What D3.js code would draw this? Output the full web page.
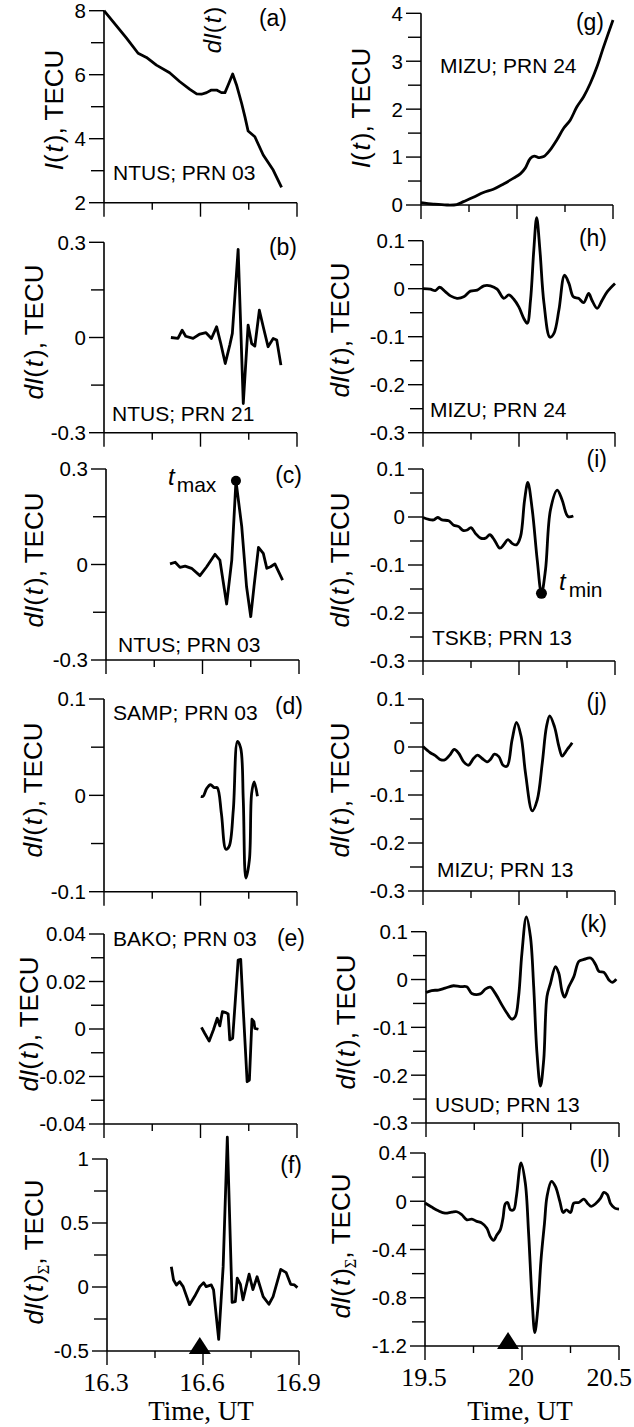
<!DOCTYPE html>
<html>
<head>
<meta charset="utf-8">
<script src="https://cdn.jsdelivr.net/npm/d3@7/dist/d3.min.js"></script>
<style>
  body { margin: 0; background: #fff; }
  svg { display: block; }
</style>
</head>
<body>
<svg id="chart" width="634" height="1427"></svg>
<script>
// ---------- data ----------
// x ticks
const leftTimeTicks = [16.3, 16.45, 16.6, 16.75, 16.9];
const leftTimeLabels = ["16.3", "", "16.6", "", "16.9"];
const rightTimeTicks = [19.5, 19.75, 20, 20.25, 20.5];
const rightTimeLabels = ["19.5", "", "20", "", "20.5"];

// y ticks
const yMajorA = [2, 4, 6, 8], yMinorA = [3, 5, 7];
const yMajorBC = [-0.3, 0, 0.3], yMinorBC = [-0.15, 0.15];
const yMajorD = [-0.1, 0, 0.1], yMinorD = [-0.05, 0.05];
const yMajorE = [-0.04, -0.02, 0, 0.02, 0.04], yMinorE = [-0.03, -0.01, 0.01, 0.03];
const yMajorF = [-0.5, 0, 0.5, 1], yMinorF = [-0.25, 0.25, 0.75];
const yMajorG = [0, 1, 2, 3, 4], yMinorG = [0.5, 1.5, 2.5, 3.5];
const yMajorHK = [-0.3, -0.2, -0.1, 0, 0.1], yMinorHK = [-0.25, -0.15, -0.05, 0.05];
const yMajorL = [-1.2, -0.8, -0.4, 0, 0.4], yMinorL = [-1.0, -0.6, -0.2, 0.2];

// (a) NTUS PRN 03, I(t)
const timeA = [16.300, 16.328, 16.370, 16.406, 16.432, 16.463, 16.504, 16.536, 16.567, 16.588, 16.603, 16.619, 16.634, 16.650, 16.665, 16.676, 16.686, 16.700, 16.712, 16.728, 16.738, 16.748, 16.769, 16.795, 16.826, 16.852];
const tecA = [8.00, 7.66, 7.14, 6.67, 6.54, 6.30, 6.06, 5.78, 5.54, 5.40, 5.39, 5.44, 5.52, 5.52, 5.44, 5.44, 5.68, 6.02, 5.68, 5.10, 4.69, 4.24, 4.06, 3.49, 3.02, 2.48];
// (b) NTUS PRN 21
const timeB = [16.508, 16.530, 16.543, 16.554, 16.577, 16.598, 16.617, 16.634, 16.650, 16.663, 16.677, 16.691, 16.699, 16.717, 16.733, 16.748, 16.759, 16.769, 16.783, 16.795, 16.810, 16.826, 16.837, 16.850];
const dB = [0.000, -0.003, 0.023, 0.004, -0.003, 0.011, 0.015, -0.003, 0.034, -0.019, -0.082, -0.024, 0.013, 0.278, -0.208, 0.039, -0.019, -0.027, 0.086, 0.034, -0.029, -0.003, -0.008, -0.087];
// (c) NTUS PRN 03
const timeC = [16.499, 16.515, 16.530, 16.546, 16.566, 16.592, 16.613, 16.639, 16.654, 16.675, 16.691, 16.704, 16.722, 16.737, 16.750, 16.760, 16.774, 16.789, 16.800, 16.812, 16.825, 16.849];
const dC = [0.002, 0.007, -0.009, -0.005, -0.012, -0.035, -0.007, 0.032, 0.014, -0.124, 0.014, 0.263, 0.119, -0.070, -0.164, -0.070, 0.054, 0.035, -0.012, -0.007, 0.002, -0.049];
// (d) SAMP PRN 03
const timeD = [16.601, 16.608, 16.619, 16.631, 16.643, 16.652, 16.665, 16.679, 16.689, 16.702, 16.715, 16.725, 16.733, 16.741, 16.752, 16.759, 16.767, 16.777];
const dD = [-0.001, -0.001, 0.007, 0.011, 0.008, 0.008, -0.019, -0.056, -0.053, -0.015, 0.056, 0.049, -0.005, -0.086, -0.067, 0.002, 0.014, -0.001];
// (e) BAKO PRN 03
const timeE = [16.603, 16.613, 16.627, 16.640, 16.652, 16.660, 16.668, 16.679, 16.686, 16.691, 16.700, 16.717, 16.725, 16.733, 16.745, 16.752, 16.760, 16.766, 16.769, 16.780];
const dE = [0.0007, -0.0018, -0.0051, -0.0004, 0.0045, 0.0013, 0.0073, 0.0069, 0.0063, -0.0046, -0.0039, 0.0290, 0.0293, 0.0080, -0.0222, -0.0215, 0.0041, 0.0031, 0.0003, -0.0001];
// (f) sum
const timeF = [16.501, 16.508, 16.517, 16.527, 16.538, 16.558, 16.574, 16.590, 16.602, 16.610, 16.626, 16.633, 16.649, 16.663, 16.676, 16.691, 16.701, 16.707, 16.717, 16.725, 16.744, 16.756, 16.769, 16.788, 16.806, 16.819, 16.843, 16.860, 16.874, 16.886, 16.895];
const dF = [0.159, 0.055, 0.016, 0.042, 0.003, -0.138, -0.073, 0.003, 0.034, 0.003, 0.016, -0.023, -0.409, 0.159, 1.17, -0.120, -0.115, 0.070, 0.020, -0.100, 0.100, -0.020, 0.080, -0.075, -0.135, -0.075, 0.138, 0.112, 0.021, 0.016, -0.005];

// (g) MIZU PRN 24, I(t)
const timeG = [19.500, 19.564, 19.634, 19.686, 19.721, 19.773, 19.825, 19.877, 19.930, 19.982, 20.017, 20.043, 20.069, 20.090, 20.113, 20.139, 20.173, 20.208, 20.243, 20.277, 20.312, 20.347, 20.382, 20.417, 20.451, 20.500];
const tecG = [0.05, 0.02, 0.00, 0.01, 0.07, 0.16, 0.26, 0.33, 0.44, 0.56, 0.65, 0.77, 0.97, 1.02, 0.99, 1.01, 1.15, 1.36, 1.60, 1.77, 2.05, 2.26, 2.54, 2.89, 3.30, 3.86];
// (h) MIZU PRN 24
const timeH = [19.500, 19.538, 19.564, 19.587, 19.616, 19.643, 19.677, 19.712, 19.747, 19.782, 19.817, 19.851, 19.886, 19.921, 19.947, 19.973, 19.999, 20.025, 20.043, 20.060, 20.077, 20.092, 20.109, 20.130, 20.161, 20.182, 20.208, 20.237, 20.260, 20.283, 20.310, 20.337, 20.363, 20.380, 20.407, 20.433, 20.460, 20.500];
const dH = [0.000, -0.001, -0.004, 0.003, -0.006, -0.015, -0.020, -0.017, -0.005, -0.003, 0.006, 0.006, -0.001, -0.020, -0.013, -0.022, -0.038, -0.062, -0.072, -0.024, 0.080, 0.148, 0.080, -0.030, -0.101, -0.093, -0.044, 0.028, 0.011, -0.017, -0.020, -0.029, -0.010, -0.024, -0.041, -0.024, -0.006, 0.011];
// (i) TSKB PRN 13
const timeI = [19.500, 19.530, 19.556, 19.576, 19.599, 19.634, 19.660, 19.686, 19.708, 19.730, 19.750, 19.773, 19.800, 19.826, 19.848, 19.872, 19.900, 19.920, 19.942, 19.964, 19.987, 20.008, 20.029, 20.046, 20.069, 20.095, 20.117, 20.138, 20.164, 20.199, 20.225, 20.255, 20.283];
const dI = [-0.001, -0.005, -0.006, -0.001, -0.006, -0.008, -0.017, -0.020, -0.028, -0.027, -0.022, -0.034, -0.044, -0.044, -0.037, -0.048, -0.065, -0.058, -0.047, -0.055, -0.058, -0.041, 0.035, 0.072, 0.015, -0.090, -0.159, -0.110, 0.015, 0.056, 0.035, 0.001, 0.002];
// (j) MIZU PRN 13
const timeJ = [19.500, 19.538, 19.564, 19.594, 19.617, 19.639, 19.663, 19.686, 19.712, 19.737, 19.763, 19.784, 19.808, 19.834, 19.851, 19.872, 19.895, 19.917, 19.938, 19.964, 19.987, 20.011, 20.034, 20.069, 20.095, 20.121, 20.143, 20.160, 20.185, 20.208, 20.225, 20.243, 20.255, 20.265, 20.277];
const dJ = [0.001, -0.012, -0.018, -0.027, -0.026, -0.017, -0.005, -0.013, -0.031, -0.038, -0.024, -0.017, -0.024, -0.031, -0.026, -0.015, -0.020, -0.038, -0.040, 0.015, 0.051, 0.022, -0.055, -0.133, -0.110, -0.034, 0.042, 0.065, 0.042, 0.001, -0.019, -0.010, -0.003, 0.002, 0.009];
// (k) USUD PRN 13
const timeK = [19.500, 19.529, 19.564, 19.599, 19.642, 19.677, 19.711, 19.737, 19.781, 19.807, 19.833, 19.859, 19.893, 19.919, 19.945, 19.963, 19.980, 19.997, 20.020, 20.041, 20.058, 20.075, 20.093, 20.110, 20.127, 20.145, 20.171, 20.188, 20.205, 20.218, 20.240, 20.266, 20.292, 20.318, 20.353, 20.379, 20.396, 20.422, 20.448, 20.465, 20.486];
const dK = [-0.027, -0.023, -0.022, -0.018, -0.013, -0.015, -0.015, -0.029, -0.030, -0.020, -0.016, -0.029, -0.053, -0.070, -0.083, -0.077, -0.035, 0.055, 0.131, 0.090, -0.015, -0.154, -0.223, -0.168, -0.035, -0.008, 0.027, 0.013, -0.025, -0.037, -0.015, 0.006, 0.038, 0.042, 0.045, 0.031, 0.017, 0.015, -0.001, -0.006, 0.001];
// (l) sum
const timeL = [19.500, 19.534, 19.569, 19.603, 19.638, 19.664, 19.690, 19.716, 19.741, 19.767, 19.793, 19.819, 19.836, 19.853, 19.871, 19.888, 19.902, 19.914, 19.926, 19.940, 19.957, 19.971, 19.995, 20.017, 20.034, 20.052, 20.066, 20.081, 20.098, 20.116, 20.129, 20.152, 20.172, 20.195, 20.212, 20.229, 20.250, 20.267, 20.293, 20.319, 20.340, 20.357, 20.379, 20.405, 20.422, 20.440, 20.457, 20.478, 20.500];
const dL = [-0.015, -0.048, -0.079, -0.098, -0.090, -0.087, -0.112, -0.154, -0.148, -0.167, -0.181, -0.223, -0.292, -0.325, -0.278, -0.237, -0.140, -0.021, -0.010, -0.070, -0.070, 0.040, 0.317, 0.151, -0.264, -0.818, -1.089, -0.901, -0.486, -0.181, 0.040, 0.165, 0.123, -0.001, -0.093, -0.071, -0.093, -0.015, -0.010, 0.018, -0.021, -0.043, -0.021, 0.026, 0.073, 0.054, -0.021, -0.057, -0.065];

// markers
const quakeTimeLeft = 16.59, quakeTimeRight = 19.928;
const tMaxPoint = [16.704, 0.263];   // (c)
const tMinPoint = [20.117, -0.159];  // (i)

// ---------- layout ----------
const SANS = "Liberation Sans, Arial, sans-serif";
const SERIF = "Liberation Serif, Times New Roman, serif";
const W = 634;

const panels = [
  {tag: "(a)", station: "NTUS; PRN 03", time: timeA, values: tecA, domain: [2, 8], major: yMajorA, minor: yMinorA,
   x0: 104, x1: 297, top: 10.7, bottom: 202.7, tagPos: [287, 26], stPos: [113, 180], titleX: 63, titleY: 110, title: "I", curve: d3.curveLinear},
  {tag: "(b)", station: "NTUS; PRN 21", time: timeB, values: dB, domain: [-0.3, 0.3], major: yMajorBC, minor: yMinorBC,
   x0: 104, x1: 297, top: 242.3, bottom: 432.7, tagPos: [297, 255], stPos: [112, 421], titleX: 43, titleY: 332, title: "dI", curve: d3.curveLinear},
  {tag: "(c)", station: "NTUS; PRN 03", time: timeC, values: dC, domain: [-0.3, 0.3], major: yMajorBC, minor: yMinorBC,
   x0: 106, x1: 299, top: 469, bottom: 660, tagPos: [302, 483], stPos: [118, 652], titleX: 43, titleY: 560, title: "dI", curve: d3.curveLinear},
  {tag: "(d)", station: "SAMP; PRN 03", time: timeD, values: dD, domain: [-0.1, 0.1], major: yMajorD, minor: yMinorD,
   x0: 104, x1: 297, top: 699, bottom: 891.7, tagPos: [303, 714], stPos: [113, 720], titleX: 42, titleY: 790, title: "dI", curve: d3.curveCatmullRom.alpha(0.5)},
  {tag: "(e)", station: "BAKO; PRN 03", time: timeE, values: dE, domain: [-0.04, 0.04], major: yMajorE, minor: yMinorE,
   x0: 104, x1: 297, top: 934, bottom: 1124, tagPos: [305, 946], stPos: [113, 946], titleX: 38, titleY: 1024, title: "dI", curve: d3.curveLinear},
  {tag: "(f)", station: "", time: timeF, values: dF, domain: [-0.5, 1], major: yMajorF, minor: yMinorF,
   x0: 107, x1: 299, top: 1159, bottom: 1351, tagPos: [302, 1173], stPos: [0, 0], titleX: 43, titleY: 1252, title: "dIsum", curve: d3.curveLinear,
   quake: quakeTimeLeft, ticksLabels: leftTimeLabels},
  {tag: "(g)", station: "MIZU; PRN 24", time: timeG, values: tecG, domain: [0, 4], major: yMajorG, minor: yMinorG,
   x0: 421, x1: 613, top: 13.3, bottom: 205, tagPos: [604, 30], stPos: [440, 73], titleX: 370, titleY: 108, title: "I", curve: d3.curveCatmullRom.alpha(0.5)},
  {tag: "(h)", station: "MIZU; PRN 24", time: timeH, values: dH, domain: [-0.3, 0.1], major: yMajorHK, minor: yMinorHK,
   x0: 423, x1: 615, top: 240.7, bottom: 432.7, tagPos: [607, 246], stPos: [430, 417], titleX: 349, titleY: 330, title: "dI", curve: d3.curveCatmullRom.alpha(0.5)},
  {tag: "(i)", station: "TSKB; PRN 13", time: timeI, values: dI, domain: [-0.3, 0.1], major: yMajorHK, minor: yMinorHK,
   x0: 423, x1: 615, top: 469, bottom: 661, tagPos: [607, 467], stPos: [432, 645], titleX: 349, titleY: 560, title: "dI", curve: d3.curveCatmullRom.alpha(0.5)},
  {tag: "(j)", station: "MIZU; PRN 13", time: timeJ, values: dJ, domain: [-0.3, 0.1], major: yMajorHK, minor: yMinorHK,
   x0: 423, x1: 615, top: 699, bottom: 891, tagPos: [607, 710], stPos: [437, 877], titleX: 349, titleY: 790, title: "dI", curve: d3.curveCatmullRom.alpha(0.5)},
  {tag: "(k)", station: "USUD; PRN 13", time: timeK, values: dK, domain: [-0.3, 0.1], major: yMajorHK, minor: yMinorHK,
   x0: 426, x1: 619, top: 931.7, bottom: 1123, tagPos: [607, 932], stPos: [435, 1112], titleX: 355, titleY: 1022, title: "dI", curve: d3.curveCatmullRom.alpha(0.5)},
  {tag: "(l)", station: "", time: timeL, values: dL, domain: [-1.2, 0.4], major: yMajorL, minor: yMinorL,
   x0: 425, x1: 619, top: 1153, bottom: 1346, tagPos: [610, 1167], stPos: [0, 0], titleX: 350, titleY: 1246, title: "dIsum", curve: d3.curveCatmullRom.alpha(0.5),
   quake: quakeTimeRight, ticksLabels: rightTimeLabels}
];
panels.forEach((p, i) => {
  p.ticks = i < 6 ? leftTimeTicks : rightTimeTicks;
});

const svg = d3.select("#chart");
svg.append("rect").attr("width", W).attr("height", 1427).attr("fill", "#fff");

function yTitle(g, x, y, kind, size) {
  const t = g.append("text")
      .attr("transform", `translate(${x},${y}) rotate(-90)`)
      .attr("text-anchor", "middle")
      .attr("font-family", SANS)
      .attr("font-size", size)
      .attr("fill", "#000");
  const dPart = kind === "I" ? "I" : "dI";
  t.append("tspan").attr("font-style", "italic").text(dPart);
  t.append("tspan").text("(");
  t.append("tspan").attr("font-style", "italic").attr("dx", 2).text("t");
  t.append("tspan").attr("dx", 2).text(")");
  if (kind === "dIsum") {
    t.append("tspan").attr("font-family", SERIF).attr("font-size", size * 0.62).attr("dy", 6).text("Σ");
    t.append("tspan").attr("dy", -6).text(", TECU");
  } else if (kind !== "bare") {
    t.append("tspan").text(", TECU");
  }
  return t;
}

panels.forEach(p => {
  const x = d3.scaleLinear().domain([p.ticks[0], p.ticks[p.ticks.length - 1]]).range([p.x0, p.x1]);
  const y = d3.scaleLinear().domain(p.domain).range([p.bottom, p.top]);
  const g = svg.append("g");

  // axes lines
  g.append("line").attr("x1", p.x0).attr("x2", p.x0).attr("y1", p.top).attr("y2", p.bottom)
      .attr("stroke", "#000").attr("stroke-width", 1.6);
  g.append("line").attr("x1", p.x0).attr("x2", p.x1).attr("y1", p.bottom).attr("y2", p.bottom)
      .attr("stroke", "#000").attr("stroke-width", 1.6);

  // y ticks
  g.selectAll(".ymin").data(p.minor).join("line")
      .attr("x1", p.x0 - 13).attr("x2", p.x0)
      .attr("y1", d => y(d)).attr("y2", d => y(d))
      .attr("stroke", "#000").attr("stroke-width", 1.4);
  g.selectAll(".ymaj").data(p.major).join("line")
      .attr("x1", p.x0 - 15).attr("x2", p.x0)
      .attr("y1", d => y(d)).attr("y2", d => y(d))
      .attr("stroke", "#000").attr("stroke-width", 1.4);
  g.selectAll(".ylab").data(p.major).join("text")
      .attr("x", p.x0 - 18).attr("y", d => y(d)).attr("dy", "0.36em")
      .attr("text-anchor", "end")
      .attr("font-family", SANS).attr("font-size", 20.5)
      .text(d => String(d));

  // x ticks
  g.selectAll(".xt").data(p.ticks).join("line")
      .attr("x1", d => x(d)).attr("x2", d => x(d))
      .attr("y1", p.bottom).attr("y2", (d, i) => p.bottom + (i % 2 === 0 ? 14 : 7))
      .attr("stroke", "#000").attr("stroke-width", 1.4);

  if (p.ticksLabels) {
    g.selectAll(".xl").data(p.ticks).join("text")
        .attr("x", d => x(d) - 1).attr("y", p.bottom + 40)
        .attr("text-anchor", "middle")
        .attr("font-family", SERIF).attr("font-size", 26)
        .text((d, i) => p.ticksLabels[i])
        .each(function() {
          // keep the last label inside the page
          const b = this.getBBox();
          const over = b.x + b.width - (W - 2);
          if (over > 0) d3.select(this).attr("x", +d3.select(this).attr("x") - over);
        });
    g.append("text")
        .attr("x", (p.x0 + p.x1) / 2 - 2).attr("y", 1420)
        .attr("text-anchor", "middle")
        .attr("font-family", SERIF).attr("font-size", 27)
        .text("Time, UT");
    // earthquake marker
    const qx = x(p.quake);
    g.append("path")
        .attr("d", `M${qx - 11},${p.bottom + 3} L${qx + 11},${p.bottom + 3} L${qx},${p.bottom - 14} Z`)
        .attr("fill", "#000");
  }

  // data curve
  const line = d3.line().x((d, i) => x(p.time[i])).y(d => y(d)).curve(p.curve);
  g.append("path")
      .attr("d", line(p.values))
      .attr("fill", "none").attr("stroke", "#000")
      .attr("stroke-width", 2.8).attr("stroke-linejoin", "round");

  // labels
  g.append("text").attr("x", p.tagPos[0]).attr("y", p.tagPos[1])
      .attr("text-anchor", "end").attr("font-family", SANS).attr("font-size", 23)
      .text(p.tag);
  if (p.station) {
    g.append("text").attr("x", p.stPos[0]).attr("y", p.stPos[1])
        .attr("font-family", SANS).attr("font-size", 21)
        .text(p.station);
  }
  yTitle(g, p.titleX, p.titleY, p.title, 26);

  p.x = x; p.y = y;
});

// extra annotations
yTitle(svg, 221, 30, "bare", 24);

const pc = panels[2], pi = panels[8];
svg.append("circle").attr("cx", pc.x(tMaxPoint[0])).attr("cy", pc.y(tMaxPoint[1])).attr("r", 5).attr("fill", "#000");
const tmax = svg.append("text").attr("x", 168).attr("y", 485).attr("font-family", SANS).attr("font-size", 24);
tmax.append("tspan").attr("font-style", "italic").text("t");
tmax.append("tspan").attr("font-size", 21).attr("dx", 2).attr("dy", 7).text("max");

svg.append("circle").attr("cx", pi.x(tMinPoint[0])).attr("cy", pi.y(tMinPoint[1])).attr("r", 5.5).attr("fill", "#000");
const tmin = svg.append("text").attr("x", 559).attr("y", 590).attr("font-family", SANS).attr("font-size", 24);
tmin.append("tspan").attr("font-style", "italic").text("t");
tmin.append("tspan").attr("font-size", 21).attr("dx", 3).attr("dy", 7).text("min");
</script>
</body>
</html>
